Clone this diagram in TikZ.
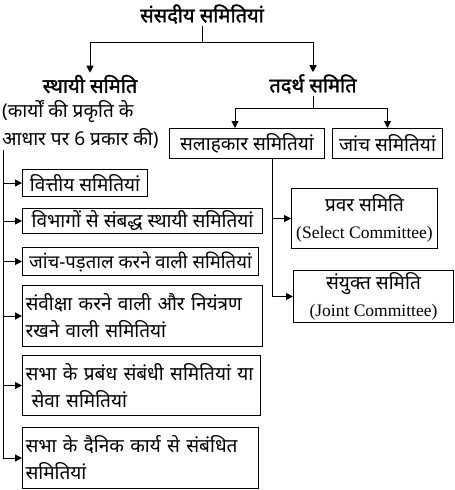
\documentclass[tikz,border=0pt]{standalone}
\usepackage{fontspec}
\setmainfont[Script=Devanagari]{Noto Sans}
\newfontfamily\headfont[Script=Devanagari, FakeBold=1.5]{Noto Sans}
\newfontfamily\engfont{Liberation Serif}
\newcommand{\engtext}[1]{{\engfont\fontsize{17.5}{25}\selectfont #1}}
\usetikzlibrary{arrows.meta}

\begin{document}
\begin{tikzpicture}[x=1pt, y=-1pt,
	every node/.style={font=\fontsize{19}{27}\selectfont},
	box/.style={draw, line width=1pt, anchor=north west, inner xsep=3pt, inner ysep=0pt, align=left},
	head/.style={font=\fontsize{20}{24}\selectfont\headfont, inner sep=2pt},
	link/.style={line width=1pt},
	arr/.style={link, -{Triangle[length=7pt, width=7pt]}}]
	\useasboundingbox (0,0) rectangle (455,490);
	% headings
	\node[head] (root) at (202,14) {संसदीय समितियां};
	\node[head] (sthayi) at (90,84) {स्थायी समिति};
	\node[head] (tadarth) at (313,84) {तदर्थ समिति};
	\node[anchor=north west, align=left, inner sep=0pt, font=\fontsize{19}{28}\selectfont] (note) at (2,100) {(कार्यों की प्रकृति के\\आधार पर 6 प्रकार की)};
	% standing committees
	\node[box, minimum width=125pt, minimum height=27pt] (fin) at (22,169) {वित्तीय समितियां};
	\node[box, minimum width=240pt, minimum height=25pt] (vibhag) at (22,208) {विभागों से संबद्ध स्थायी समितियां};
	\node[box, minimum width=236pt, minimum height=28pt, font=\fontsize{18.5}{27}\selectfont] (janch) at (22,247) {जांच-पड़ताल करने वाली समितियां};
	\node[box, text width=234pt, minimum height=61pt] (samiksha) at (22,285) {संवीक्षा करने वाली और नियंत्रण\\रखने वाली समितियां};
	\node[box, text width=232pt, minimum height=60pt] (prabandh) at (22,355) {सभा के प्रबंध संबंधी समितियां या\\\hspace*{6pt}सेवा समितियां};
	\node[box, text width=230pt, minimum height=61pt] (dainik) at (22,427) {सभा के दैनिक कार्य से संबंधित\\समितियां};
	% ad hoc committees
	\node[box, minimum width=155pt, minimum height=30pt] (salah) at (169,128) {सलाहकार समितियां};
	\node[box, minimum width=110pt, minimum height=30pt] (jaanch) at (332,128) {जांच समितियां};
	\node[box, minimum width=146pt, minimum height=60pt, align=center] (pravar) at (291,188) {प्रवर समिति\\\engtext{(Select Committee)}};
	\node[box, minimum width=160pt, minimum height=52pt, align=center] (sanyukt) at (293,270) {संयुक्त समिति\\\engtext{(Joint Committee)}};
	% connectors
	\coordinate (split1) at (202,42);
	\coordinate (split2) at (313,108);
	\coordinate (rail) at (3,150);
	\draw[link] (root) -- (split1);
	\draw[arr] (split1) -| (sthayi);
	\draw[arr] (split1) -| (tadarth);
	\draw[link] (tadarth) -- (split2);
	\draw[arr] (split2) -| ([xshift=-12pt]salah.north);
	\draw[arr] (split2) -| (jaanch.north);
	\draw[arr] ([xshift=25pt]salah.south) |- (pravar.west);
	\draw[arr] ([xshift=25pt]salah.south) |- (sanyukt.west);
	\foreach \kind in {fin, vibhag, janch, samiksha, prabandh, dainik}
		\draw[arr] (rail) |- (\kind.west);
\end{tikzpicture}
\end{document}
